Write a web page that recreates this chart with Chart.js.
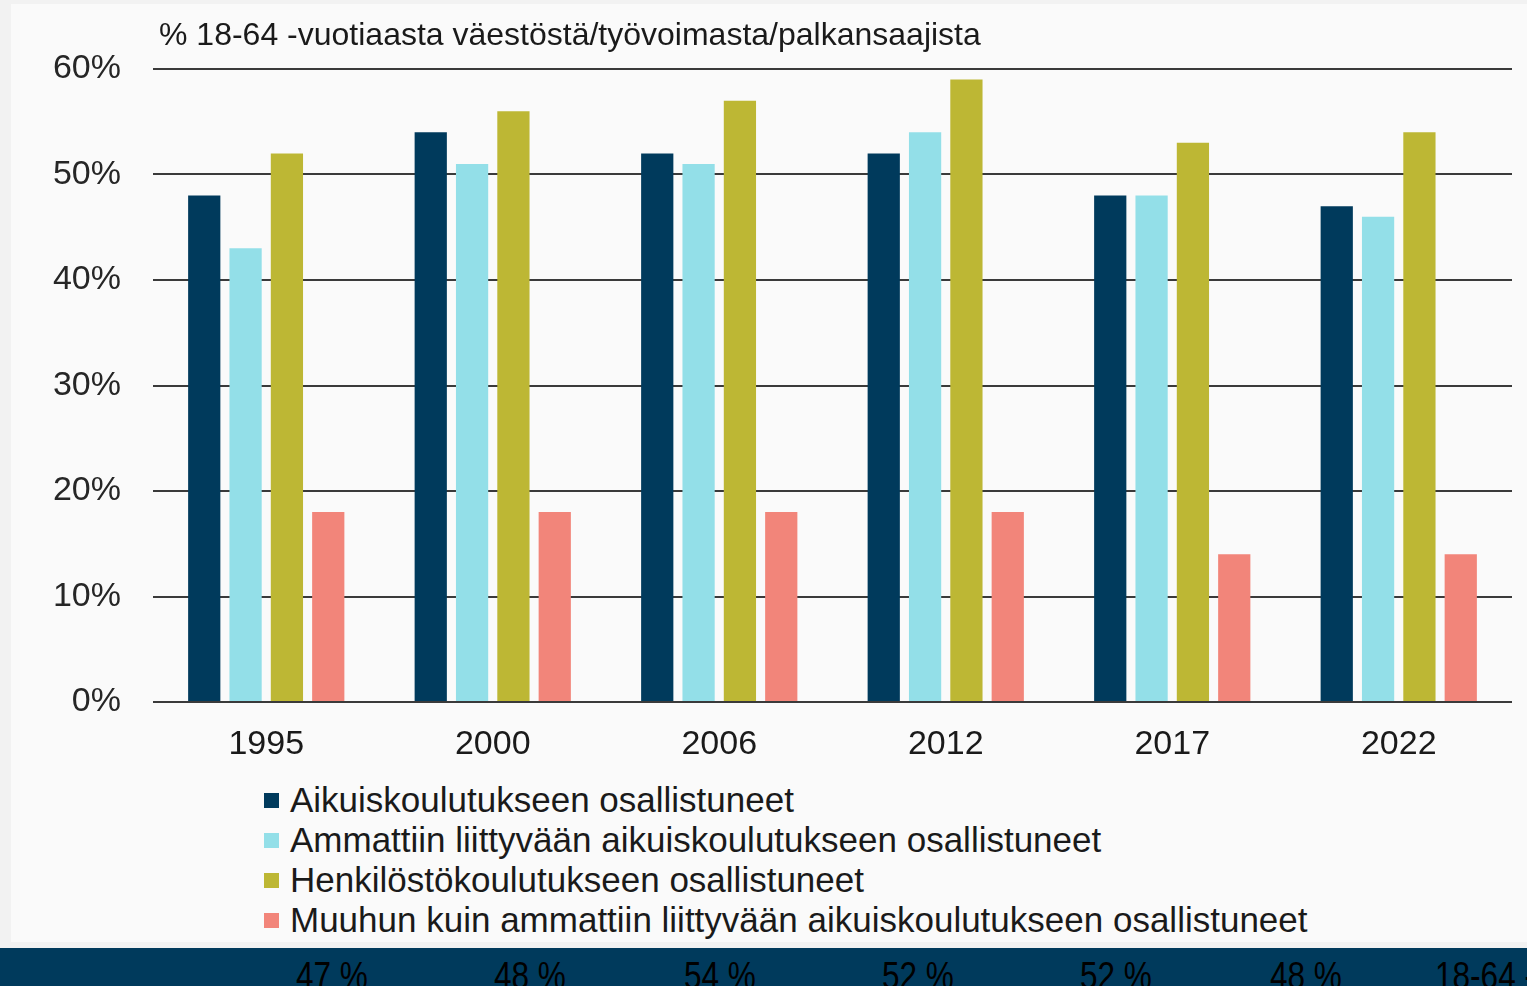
<!DOCTYPE html>
<html>
<head>
<meta charset="utf-8">
<script src="https://cdn.jsdelivr.net/npm/chart.js@4"></script>
<style>
  html, body { margin: 0; padding: 0; background: #f2f2f2; width: 1527px; height: 986px; overflow: hidden; }
  #panel { position: absolute; left: 11px; top: 4px; width: 1516px; height: 938px; background: #fafafa; }
  #chart { position: absolute; left: 0; top: 0; }
  #title { position: absolute; left: 159px; top: 16px; font: 32px "Liberation Sans", Arial, sans-serif; color: #1a1a1a; white-space: nowrap; }
  #legend { position: absolute; left: 264px; top: 780px; font: 35px "Liberation Sans", Arial, sans-serif; color: #1a1a1a; }
  #legend div { height: 40px; line-height: 40px; white-space: nowrap; }
  #legend span { display: inline-block; width: 15px; height: 15px; margin-right: 11px; vertical-align: middle; position: relative; top: -2px; }
  #band { position: absolute; left: 0; top: 948px; width: 1527px; height: 38px; background: #003a5c; overflow: hidden; }
  #band span { position: absolute; top: 9px; font: 38px "Liberation Sans", Arial, sans-serif; line-height: 1; color: #000; white-space: nowrap; transform: scaleX(0.83); transform-origin: left top; }
</style>
</head>
<body>
<div id="panel"></div>
<canvas id="chart" width="1527" height="770"></canvas>
<div id="title"></div>
<div id="legend"></div>
<div id="band"></div>
<script>
// vuodet ja sarjat
var years = ['1995', '2000', '2006', '2012', '2017', '2022'];
var seriesNames = [
  'Aikuiskoulutukseen osallistuneet',
  'Ammattiin liittyvään aikuiskoulutukseen osallistuneet',
  'Henkilöstökoulutukseen osallistuneet',
  'Muuhun kuin ammattiin liittyvään aikuiskoulutukseen osallistuneet'
];
var aikuis = [48, 54, 52, 52, 48, 47];
var ammatti = [43, 51, 51, 54, 48, 46];
var henkilosto = [52, 56, 57, 59, 53, 54];
var muu = [18, 18, 18, 18, 14, 14];
var yTicks = [0, 10, 20, 30, 40, 50, 60];
var titleText = '% 18-64 -vuotiaasta väestöstä/työvoimasta/palkansaajista';
var bandLabels = ['47 %', '48 %', '54 %', '52 %', '52 %', '48 %', '18-64 -'];

var colors = ['#003a5c', '#93dfe8', '#bdb734', '#f2857a'];
var bandX = [296, 494, 684, 882, 1080, 1270, 1435];

var font = '"Liberation Sans", Arial, sans-serif';
var values = [aikuis, ammatti, henkilosto, muu];

var ctx = document.getElementById('chart').getContext('2d');
var chart = new Chart(ctx, {
  type: 'bar',
  data: {
    labels: years,
    datasets: values.map(function (v, i) {
      return {
        label: seriesNames[i],
        data: v,
        backgroundColor: colors[i],
        borderWidth: 0,
        categoryPercentage: 0.73,
        barPercentage: 0.78
      };
    })
  },
  options: {
    responsive: false,
    animation: false,
    layout: { padding: { top: 69, right: 15, left: 0, bottom: 0 } },
    plugins: {
      legend: { display: false },
      tooltip: { enabled: false }
    },
    scales: {
      y: {
        min: 0,
        max: 60,
        afterBuildTicks: function (s) { s.ticks = yTicks.map(function (v) { return { value: v }; }); },
        afterFit: function (s) { s.width = 153; },
        ticks: {
          callback: function (v) { return v + '%'; },
          font: { family: font, size: 34 },
          color: '#262626',
          padding: 32
        },
        grid: { color: '#3a3a3a', lineWidth: 2, drawTicks: false },
        border: { display: false }
      },
      x: {
        afterFit: function (s) { s.height = 68; },
        ticks: {
          font: { family: font, size: 34 },
          color: '#1a1a1a',
          padding: 14,
          maxRotation: 0
        },
        grid: { display: false },
        border: { display: false }
      }
    }
  }
});

document.getElementById('title').textContent = titleText;

var legend = document.getElementById('legend');
chart.data.datasets.forEach(function (ds) {
  var row = document.createElement('div');
  var box = document.createElement('span');
  box.style.background = ds.backgroundColor;
  row.appendChild(box);
  row.appendChild(document.createTextNode(ds.label));
  legend.appendChild(row);
});

var band = document.getElementById('band');
bandLabels.forEach(function (t, i) {
  var s = document.createElement('span');
  s.textContent = t;
  s.style.left = bandX[i] + 'px';
  band.appendChild(s);
});
</script>
</body>
</html>
